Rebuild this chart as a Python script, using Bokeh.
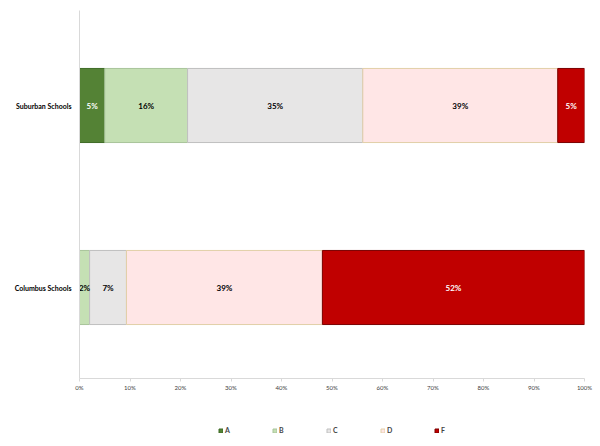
from bokeh.plotting import figure
from bokeh.models import ColumnDataSource, FixedTicker, Legend, LegendItem, Range1d
from bokeh.layouts import column
from bokeh.core.properties import value
from bokeh.embed import file_html
from bokeh.resources import INLINE

schools = ["Columbus Schools", "Suburban Schools"]
grades = ["A", "B", "C", "D", "F"]
A = [0.0, 5.0]
B = [2.0, 16.4]
C = [7.3, 34.7]
D = [38.8, 38.6]
F = [51.9, 5.3]
x_ticks = [0, 10, 20, 30, 40, 50, 60, 70, 80, 90, 100]
x_tick_labels = ["0%", "10%", "20%", "30%", "40%", "50%", "60%", "70%", "80%", "90%", "100%"]

fills = ["#548235", "#C5E0B4", "#E7E6E6", "#FFE6E6", "#C00000"]
lines = ["#3E6B26", "#A9C49A", "#BFBFBF", "#E2CFA8", "#7A0000"]
text_colors = ["white", "black", "black", "black", "white"]

ypos = [0.5, 1.5]
data = {"y": ypos, "A": A, "B": B, "C": C, "D": D, "F": F}
src = ColumnDataSource(data)

p = figure(width=600, height=410, output_backend="svg", toolbar_location=None,
           x_range=Range1d(0, 100), y_range=Range1d(0, 2.022),
           min_border_left=79, min_border_right=16, min_border_top=10, min_border_bottom=32)
p.outline_line_color = None
p.grid.visible = False
p.background_fill_color = "white"

rs = p.hbar_stack(grades, y="y", height=0.407, source=src,
                  fill_color=fills, line_color=lines, line_width=1)

# labels
series = [A, B, C, D, F]
lx, ly, lt, lc = [], [], [], []
for i in range(len(schools)):
    cum = 0.0
    for g, vals in enumerate(series):
        v = vals[i]
        if v > 0:
            lx.append(cum + v / 2)
            ly.append(ypos[i])
            lt.append(f"{round(v)}%")
            lc.append(text_colors[g])
        cum += v
lsrc = ColumnDataSource({"x": lx, "y": ly, "t": lt, "c": lc})
p.text(x="x", y="y", text="t", text_color="c", source=lsrc,
       text_align="center", text_baseline="middle",
       text_font=value("Lato"), text_font_size="8px", text_font_style="bold")

# axes
p.xaxis.ticker = FixedTicker(ticks=x_ticks)
p.xaxis.major_label_overrides = {t: l for t, l in zip(x_ticks, x_tick_labels)}
p.xaxis.axis_line_color = "#D9D9D9"
p.xaxis.major_tick_line_color = "#D9D9D9"
p.xaxis.major_tick_out = 3
p.xaxis.major_tick_in = 0
p.xaxis.minor_tick_line_color = None
p.xaxis.major_label_text_font = "Lato"
p.xaxis.major_label_text_font_size = "6px"
p.xaxis.major_label_text_color = "#404040"
p.xaxis.major_label_standoff = 2

p.yaxis.ticker = FixedTicker(ticks=ypos)
p.yaxis.major_label_overrides = {y: s for y, s in zip(ypos, schools)}
p.yaxis.axis_line_color = "#D9D9D9"
p.yaxis.major_tick_line_color = None
p.yaxis.minor_tick_line_color = None
p.yaxis.major_label_text_font = "Lato"
p.yaxis.major_label_text_font_size = "7px"
p.yaxis.major_label_text_font_style = "bold"
p.yaxis.major_label_text_color = "black"
p.yaxis.major_label_standoff = 2

# legend strip
lf = figure(width=600, height=36, output_backend="svg", toolbar_location=None,
            x_range=Range1d(0, 1), y_range=Range1d(0, 1),
            min_border_left=0, min_border_right=0, min_border_top=0, min_border_bottom=0)
lf.axis.visible = False
lf.grid.visible = False
lf.outline_line_color = None
items = []
for g, fc, lc_ in zip(grades, fills, lines):
    r = lf.hbar(y=[float("nan")], left=[float("nan")], right=[float("nan")], height=0.1,
                fill_color=fc, line_color=lc_)
    items.append(LegendItem(label=g, renderers=[r]))
legend = Legend(items=items, orientation="horizontal", location=(139, 12),
                glyph_width=5, glyph_height=5, label_standoff=2, spacing=27, label_width=20,
                label_text_font="Lato", label_text_font_size="7px", label_text_font_style="bold",
                label_height=7, padding=0, margin=0, border_line_color=None,
                background_fill_alpha=0)
lf.add_layout(legend, "center")

layout = column(p, lf, spacing=0)
open("out.html", "w").write(file_html(layout, INLINE))
